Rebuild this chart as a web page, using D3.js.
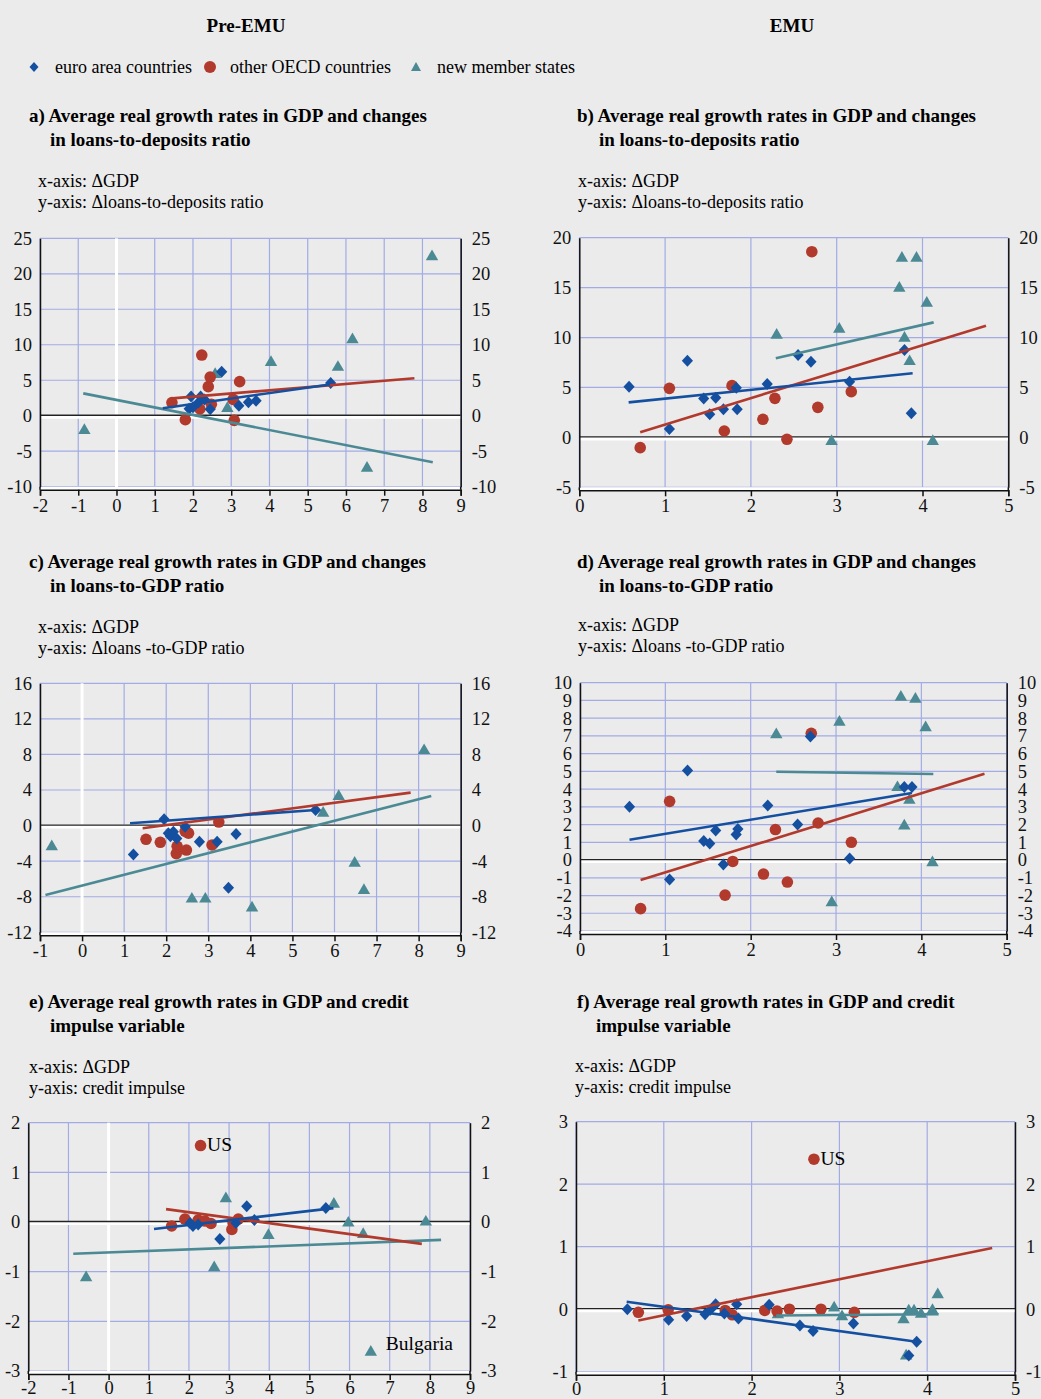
<!DOCTYPE html>
<html>
<head>
<meta charset="utf-8">
<script src="https://cdn.jsdelivr.net/npm/d3@7/dist/d3.min.js"></script>
<style>
body { margin: 0; background: #ebebeb; }
svg { display: block; font-family: "Liberation Serif", "Times New Roman", serif; }
</style>
</head>
<body>
<div id="chart"></div>
<script>
// ---- data ----
// panel a: pre-EMU, loans-to-deposits
var aEuro = [[1.9,1.0],[1.95,2.7],[2.0,1.2],[2.15,1.9],[2.2,2.7],[2.3,2.3],[2.45,0.9],[2.75,6.2],[3.2,1.4],[3.45,1.9],[3.65,2.1],[5.6,4.6]];
var aOecd = [[1.45,1.85],[1.8,-0.55],[2.18,0.95],[2.23,8.55],[2.4,4.1],[2.45,5.45],[2.48,1.6],[3.05,2.3],[3.08,-0.65],[3.22,4.8]];
var aNms  = [[-0.84,-2.0],[2.58,5.9],[2.9,1.1],[4.04,7.6],[5.79,6.9],[6.17,10.8],[6.55,-7.3],[8.25,22.5]];
var aFitEuro = [1.21,1.05,5.58,4.4], aFitOecd = [1.46,2.45,7.79,5.27], aFitNms = [-0.87,3.15,8.27,-6.56];

// panel b: EMU, loans-to-deposits
var bEuro = [[0.58,5.08],[1.05,0.84],[1.26,7.68],[1.45,3.9],[1.52,2.31],[1.59,3.98],[1.68,2.81],[1.83,4.98],[1.84,2.81],[2.19,5.35],[2.55,8.25],[2.7,7.58],[3.15,5.58],[3.79,8.75],[3.87,2.41]];
var bOecd = [[0.71,-1.03],[1.05,4.91],[1.69,0.64],[1.78,5.18],[2.14,1.81],[2.28,3.91],[2.42,-0.19],[2.71,18.6],[2.78,3.01],[3.17,4.58]];
var bNms  = [[2.3,10.3],[2.94,-0.36],[3.03,10.9],[3.73,15.0],[3.76,18.0],[3.79,10.0],[3.85,7.65],[3.93,18.0],[4.05,13.5],[4.12,-0.36]];
var bFitEuro = [0.575,3.51,3.885,6.42], bFitOecd = [0.71,0.51,4.74,11.19], bFitNms = [2.29,7.92,4.13,11.52];

// panel c: pre-EMU, loans-to-GDP
var cEuro = [[1.22,-3.25],[1.95,0.72],[2.05,-0.87],[2.1,-1.2],[2.17,-0.69],[2.25,-1.45],[2.45,-0.12],[2.79,-1.81],[3.21,-1.81],[3.48,-6.98],[3.66,-0.95],[5.55,1.76]];
var cOecd = [[1.52,-1.54],[1.86,-1.88],[2.24,-3.15],[2.26,-2.33],[2.45,-0.65],[2.48,-2.75],[2.53,-0.85],[3.09,-2.18],[3.25,0.4]];
var cNms  = [[-0.72,-2.3],[2.61,-8.2],[2.93,-8.2],[4.04,-9.2],[5.73,1.46],[6.1,3.33],[6.48,-4.16],[6.7,-7.24],[8.13,8.5]];
var cFitEuro = [1.14,0.26,5.55,1.76], cFitOecd = [1.44,-0.3,7.81,3.71], cFitNms = [-0.87,-7.8,8.3,3.33];

// panel d: EMU, loans-to-GDP
var dEuro = [[0.58,3.01],[1.05,-1.09],[1.26,5.05],[1.45,1.08],[1.52,0.93],[1.59,1.66],[1.68,-0.25],[1.83,1.44],[1.85,1.75],[2.2,3.08],[2.55,2.0],[2.7,6.96],[3.16,0.09],[3.8,4.12],[3.89,4.12]];
var dOecd = [[0.71,-2.74],[1.05,3.31],[1.7,-1.98],[1.79,-0.08],[2.15,-0.79],[2.29,1.72],[2.43,-1.24],[2.71,7.15],[2.79,2.09],[3.18,1.0]];
var dNms  = [[2.3,7.1],[2.95,-2.37],[3.04,7.81],[3.72,4.12],[3.76,9.21],[3.8,1.96],[3.86,3.4],[3.93,9.1],[4.05,7.5],[4.13,-0.12]];
var dFitEuro = [0.58,1.15,3.89,3.78], dFitOecd = [0.71,-1.13,4.74,4.87], dFitNms = [2.3,4.98,4.14,4.85];

// panel e: pre-EMU, credit impulse
var eEuro = [[2.03,-0.02],[2.1,-0.08],[2.23,-0.05],[2.77,-0.34],[3.17,-0.02],[3.44,0.32],[3.63,0.04],[5.41,0.28]];
var eOecd = [[1.57,-0.08],[1.9,0.06],[2.23,0.04],[2.29,1.54],[2.4,0.02],[2.55,-0.03],[3.07,-0.15],[3.1,-0.02],[3.23,0.06]];
var eNms  = [[-0.56,-1.11],[2.63,-0.91],[2.92,0.48],[3.98,-0.26],[5.61,0.37],[5.97,-0.01],[6.34,-0.24],[6.53,-2.61],[7.9,0.01]];
var eFitEuro = [1.13,-0.14,5.6,0.28], eFitOecd = [1.43,0.26,7.8,-0.44], eFitNms = [-0.88,-0.64,8.28,-0.36];
var eLabels = [["US",2.29,1.54],["Bulgaria",6.53,-2.61]];

// panel f: EMU, credit impulse
var fEuro = [[0.585,0.0],[1.055,-0.17],[1.26,-0.11],[1.47,-0.08],[1.53,-0.01],[1.59,0.08],[1.69,-0.07],[1.83,0.08],[1.85,-0.15],[2.2,0.07],[2.55,-0.26],[2.7,-0.35],[3.16,-0.23],[3.79,-0.74],[3.88,-0.52]];
var fOecd = [[0.71,-0.05],[1.05,-0.01],[1.7,-0.02],[1.78,-0.09],[2.15,-0.02],[2.29,-0.03],[2.43,0.0],[2.71,2.4],[2.79,0.0],[3.17,-0.05]];
var fNms  = [[2.3,-0.08],[2.94,0.03],[3.03,-0.11],[3.73,-0.16],[3.76,-0.74],[3.79,-0.02],[3.85,-0.02],[3.93,-0.07],[4.06,-0.01],[4.12,0.24]];
var fFitEuro = [0.577,0.12,3.88,-0.52], fFitOecd = [0.71,-0.18,4.74,0.98], fFitNms = [2.28,-0.1,4.13,-0.08];
var fLabels = [["US",2.71,2.4]];

// tick labels
var ticksX11 = d3.range(-2, 10), ticksX10 = d3.range(-1, 10), ticksX5 = d3.range(0, 6);
var ticksA = d3.range(-10, 26, 5), ticksB = d3.range(-5, 21, 5), ticksC = d3.range(-12, 17, 4);
var ticksD = d3.range(-4, 11, 1), ticksE = d3.range(-3, 3, 1), ticksF = d3.range(-1, 4, 1);

var legendNames = ["euro area countries", "other OECD countries", "new member states"];
var columnTitles = ["Pre-EMU", "EMU"];

// ---- layout ----
var width = 1041, height = 1399;
var blue = "#1550a0", red = "#b13a2d", teal = "#4b8a95", grid = "#a2abe4";
var labelOffset = {"US": [6.5, 5.5], "Bulgaria": [15, -2]};
var tickFmt = function(d) { return String(d); };   // plain hyphen for negatives

var panels = [
  {l:40, r:460.7, t:238.3, b:486.7, xd:[-2,9], yd:[-10,25], xt:ticksX11, yt:ticksA, zeroX:true, pad:3,
   euro:aEuro, oecd:aOecd, nms:aNms, fits:[aFitNms,aFitOecd,aFitEuro], labels:[],
   title:["a) Average real growth rates in GDP and changes","in loans-to-deposits ratio"], tx:29, tx2:50, ty:122,
   axes:["x-axis: \u0394GDP","y-axis: \u0394loans-to-deposits ratio"], ax:38, ay:186.5},
  {l:579.3, r:1008.3, t:237.7, b:487.3, xd:[0,5], yd:[-5,20], xt:ticksX5, yt:ticksB, zeroX:false, pad:3,
   euro:bEuro, oecd:bOecd, nms:bNms, fits:[bFitNms,bFitOecd,bFitEuro], labels:[],
   title:["b) Average real growth rates in GDP and changes","in loans-to-deposits ratio"], tx:577, tx2:599, ty:122,
   axes:["x-axis: \u0394GDP","y-axis: \u0394loans-to-deposits ratio"], ax:578, ay:186.5},
  {l:40, r:460.7, t:683.3, b:932.3, xd:[-1,9], yd:[-12,16], xt:ticksX10, yt:ticksC, zeroX:true, pad:3,
   euro:cEuro, oecd:cOecd, nms:cNms, fits:[cFitNms,cFitOecd,cFitEuro], labels:[],
   title:["c) Average real growth rates in GDP and changes","in loans-to-GDP ratio"], tx:29, tx2:50, ty:568,
   axes:["x-axis: \u0394GDP","y-axis: \u0394loans -to-GDP ratio"], ax:38, ay:632.5},
  {l:580, r:1006.7, t:682.7, b:931, xd:[0,5], yd:[-4,10], xt:ticksX5, yt:ticksD, zeroX:false, pad:3,
   euro:dEuro, oecd:dOecd, nms:dNms, fits:[dFitNms,dFitOecd,dFitEuro], labels:[],
   title:["d) Average real growth rates in GDP and changes","in loans-to-GDP ratio"], tx:577, tx2:599, ty:568,
   axes:["x-axis: \u0394GDP","y-axis: \u0394loans -to-GDP ratio"], ax:578, ay:630.5},
  {l:28.3, r:470, t:1122.7, b:1371, xd:[-2,9], yd:[-3,2], xt:ticksX11, yt:ticksE, zeroX:true, pad:1,
   euro:eEuro, oecd:eOecd, nms:eNms, fits:[eFitNms,eFitOecd,eFitEuro], labels:eLabels,
   title:["e) Average real growth rates in GDP and credit","impulse variable"], tx:29, tx2:50, ty:1008,
   axes:["x-axis: \u0394GDP","y-axis: credit impulse"], ax:29, ay:1072.5},
  {l:576, r:1015, t:1121.7, b:1371.7, xd:[0,5], yd:[-1,3], xt:ticksX5, yt:ticksF, zeroX:false, pad:1,
   euro:fEuro, oecd:fOecd, nms:fNms, fits:[fFitNms,fFitOecd,fFitEuro], labels:fLabels,
   title:["f) Average real growth rates in GDP and credit","impulse variable"], tx:577, tx2:596, ty:1008,
   axes:["x-axis: \u0394GDP","y-axis: credit impulse"], ax:575, ay:1071.5}
];
var fitColors = [teal, red, blue];

var diamond = "M0,-6L5.6,0L0,6L-5.6,0Z";
var triangle = "M0,-6.6L6.2,4.1L-6.2,4.1Z";

var svg = d3.select("#chart").append("svg")
  .attr("width", width)
  .attr("height", height);

svg.append("rect").attr("width", width).attr("height", height).attr("fill", "#ebebeb");

// column headings
svg.selectAll(".coltitle").data(columnTitles).enter().append("text")
  .attr("x", function(d, i) { return i == 0 ? 246 : 792; })
  .attr("y", 32)
  .attr("text-anchor", "middle")
  .style("font-weight", "bold").style("font-size", "19px")
  .text(function(d) { return d; });

// legend
var legTextX = [55, 230, 437];
svg.append("path").attr("d", "M0,-5L4.5,0L0,5L-4.5,0Z").attr("transform", "translate(34,67)").attr("fill", blue);
svg.append("circle").attr("cx", 210).attr("cy", 67).attr("r", 6).attr("fill", red);
svg.append("path").attr("d", "M0,-5.5L5,3.5L-5,3.5Z").attr("transform", "translate(416,67.5)").attr("fill", teal);
svg.selectAll(".leg").data(legendNames).enter().append("text")
  .attr("x", function(d, i) { return legTextX[i]; })
  .attr("y", 72.5)
  .style("font-size", "18px")
  .text(function(d) { return d; });

panels.forEach(drawPanel);

function drawPanel(p) {
  var x = d3.scaleLinear().domain(p.xd).range([p.l, p.r]);
  var y = d3.scaleLinear().domain(p.yd).range([p.b, p.t]);
  var g = svg.append("g");

  // titles
  g.append("text").attr("x", p.tx).attr("y", p.ty)
    .style("font-weight", "bold").style("font-size", "19px").text(p.title[0]);
  g.append("text").attr("x", p.tx2).attr("y", p.ty + 24)
    .style("font-weight", "bold").style("font-size", "19px").text(p.title[1]);
  g.append("text").attr("x", p.ax).attr("y", p.ay).style("font-size", "18px").text(p.axes[0]);
  g.append("text").attr("x", p.ax).attr("y", p.ay + 21.5).style("font-size", "18px").text(p.axes[1]);

  // grid
  g.selectAll(".vg").data(p.xt).enter().append("line")
    .attr("x1", function(d) { return x(d); }).attr("x2", function(d) { return x(d); })
    .attr("y1", p.t).attr("y2", p.b)
    .attr("stroke", grid).attr("stroke-width", 1.2);
  g.selectAll(".hg").data(p.yt).enter().append("line")
    .attr("x1", p.l).attr("x2", p.r)
    .attr("y1", function(d) { return y(d); }).attr("y2", function(d) { return y(d); })
    .attr("stroke", grid).attr("stroke-width", 1.2);

  // zero lines
  if (p.zeroX) {
    g.append("line").attr("x1", x(0)).attr("x2", x(0)).attr("y1", p.t).attr("y2", p.b + 3)
      .attr("stroke", "#fff").attr("stroke-width", 3);
  }
  g.append("line").attr("x1", p.l).attr("x2", p.r).attr("y1", y(0) + 1).attr("y2", y(0) + 1)
    .attr("stroke", "#fff").attr("stroke-width", 4);
  g.append("line").attr("x1", p.l).attr("x2", p.r).attr("y1", y(0) - 0.5).attr("y2", y(0) - 0.5)
    .attr("stroke", "#222").attr("stroke-width", 1.3);

  // white band above bottom axis
  g.append("line").attr("x1", p.l).attr("x2", p.r).attr("y1", p.b + 1.5).attr("y2", p.b + 1.5)
    .attr("stroke", "#fff").attr("stroke-width", 3);

  // axes
  var xAxis = d3.axisBottom(x).tickValues(p.xt).tickSize(6).tickSizeOuter(6).tickPadding(p.pad).tickFormat(tickFmt);
  var ax = g.append("g").attr("transform", "translate(0," + (p.b + 3) + ")").call(xAxis);
  var yLeft = d3.axisLeft(y).tickValues(p.yt).tickSize(0).tickPadding(8).tickFormat(tickFmt);
  var yl = g.append("g").attr("transform", "translate(" + p.l + ",0)").call(yLeft);
  var yRight = d3.axisRight(y).tickValues(p.yt).tickSize(0).tickPadding(11).tickFormat(tickFmt);
  var yr = g.append("g").attr("transform", "translate(" + p.r + ",0)").call(yRight);
  [ax, yl, yr].forEach(function(a) {
    a.selectAll("text").style("font-family", "Liberation Serif, serif").style("font-size", "18.5px").attr("fill", "#111");
    a.selectAll("line").attr("stroke", "#111").attr("stroke-width", 1.5);
    a.select(".domain").attr("stroke", "#111").attr("stroke-width", 1.5);
  });
  // extend vertical axis lines down to the bottom axis
  g.append("line").attr("x1", p.l).attr("x2", p.l).attr("y1", p.b).attr("y2", p.b + 3).attr("stroke", "#111").attr("stroke-width", 1.5);
  g.append("line").attr("x1", p.r).attr("x2", p.r).attr("y1", p.b).attr("y2", p.b + 3).attr("stroke", "#111").attr("stroke-width", 1.5);

  // points
  g.selectAll(".nms").data(p.nms).enter().append("path")
    .attr("d", triangle)
    .attr("transform", function(d) { return "translate(" + x(d[0]) + "," + y(d[1]) + ")"; })
    .attr("fill", teal);
  g.selectAll(".oecd").data(p.oecd).enter().append("circle")
    .attr("cx", function(d) { return x(d[0]); })
    .attr("cy", function(d) { return y(d[1]); })
    .attr("r", 5.8)
    .attr("fill", red);
  g.selectAll(".euro").data(p.euro).enter().append("path")
    .attr("d", diamond)
    .attr("transform", function(d) { return "translate(" + x(d[0]) + "," + y(d[1]) + ")"; })
    .attr("fill", blue);

  // fitted lines
  g.selectAll(".fit").data(p.fits).enter().append("line")
    .attr("x1", function(d) { return x(d[0]); }).attr("y1", function(d) { return y(d[1]); })
    .attr("x2", function(d) { return x(d[2]); }).attr("y2", function(d) { return y(d[3]); })
    .attr("stroke", function(d, i) { return fitColors[i]; })
    .attr("stroke-width", 2.6);

  // annotations
  g.selectAll(".lab").data(p.labels).enter().append("text")
    .attr("x", function(d) { return x(d[1]) + labelOffset[d[0]][0]; })
    .attr("y", function(d) { return y(d[2]) + labelOffset[d[0]][1]; })
    .style("font-size", "19.5px")
    .text(function(d) { return d[0]; });
}
</script>
</body>
</html>
